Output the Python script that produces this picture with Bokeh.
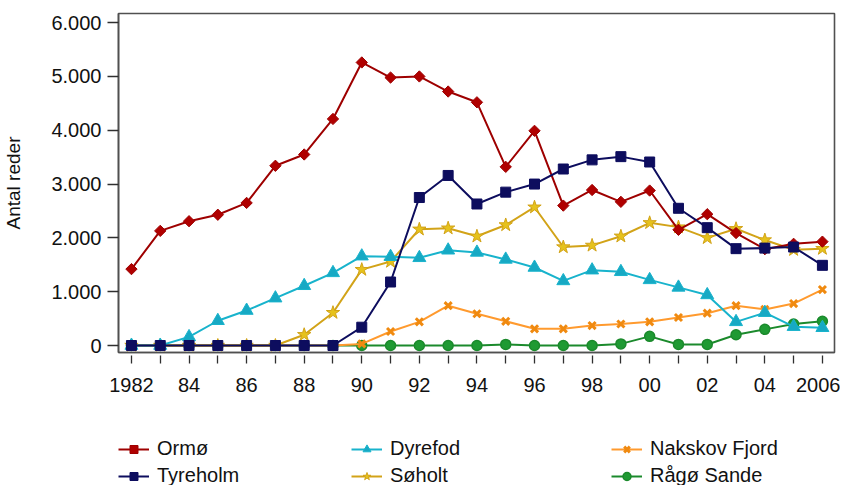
import math
from bokeh.plotting import figure
from bokeh.layouts import column
from bokeh.models import FixedTicker, CustomJSTickFormatter, Range1d, Legend, LegendItem
from bokeh.embed import file_html
from bokeh.resources import INLINE

years = list(range(1982, 2007))
x_tick_labels = ["1982", "", "84", "", "86", "", "88", "", "90", "", "92", "", "94", "",
                 "96", "", "98", "", "00", "", "02", "", "04", "", "2006"]
y_ticks = [0, 1000, 2000, 3000, 4000, 5000, 6000]

ormo = [1420, 2130, 2310, 2430, 2650, 3340, 3550, 4210, 5260, 4980, 5000, 4720, 4520,
        3320, 3990, 2600, 2890, 2670, 2880, 2150, 2440, 2090, 1790, 1890, 1930]
tyreholm = [0, 0, 0, 0, 0, 0, 0, 0, 340, 1180, 2750, 3160, 2630, 2850, 3000, 3280,
            3450, 3510, 3410, 2550, 2190, 1800, 1810, 1830, 1490]
dyrefod = [0, 0, 160, 460, 650, 880, 1110, 1350, 1660, 1650, 1630, 1770, 1730, 1600,
           1450, 1200, 1400, 1370, 1220, 1080, 940, 440, 610, 350, 330]
soholt = [0, 0, 0, 0, 0, 0, 200, 610, 1410, 1560, 2160, 2180, 2030, 2240, 2570, 1830,
          1860, 2030, 2280, 2200, 2000, 2170, 1960, 1780, 1800]
nakskov = [0, 0, 0, 0, 0, 0, 0, 0, 30, 260, 440, 740, 590, 450, 310, 310, 370, 400,
           440, 520, 600, 740, 670, 780, 1040]
rago = [0, 0, 0, 0, 0, 0, 0, 0, 0, 0, 0, 0, 0, 20, 0, 0, 0, 30, 170, 20, 20, 200, 300,
        400, 450]

FONT = "Liberation Sans"

p = figure(width=840, height=402, output_backend="svg", toolbar_location=None,
           x_range=Range1d(1981.55, 2006.42), y_range=Range1d(-130, 6170),
           min_border_left=115, min_border_right=6, min_border_top=13,
           min_border_bottom=50)
p.grid.visible = False
p.outline_line_color = "#505050"
p.outline_line_width = 1.6
p.background_fill_color = "white"
p.border_fill_color = "white"

# axes
p.xaxis.ticker = FixedTicker(ticks=years)
p.xaxis.major_label_overrides = {y: l for y, l in zip(years, x_tick_labels)}
p.xaxis.minor_tick_line_color = None
p.xaxis.major_tick_in = -3
p.xaxis.major_tick_out = 11
p.xaxis.major_label_standoff = 14
p.yaxis.ticker = FixedTicker(ticks=y_ticks)
p.yaxis.minor_tick_line_color = None
p.yaxis.major_tick_in = 0
p.yaxis.major_tick_out = 11
p.yaxis.major_label_standoff = 6
p.yaxis.formatter = CustomJSTickFormatter(
    code="return String(Math.round(tick)).replace(/\\B(?=(\\d{3})+(?!\\d))/g, '.');")
p.yaxis.axis_label = "Antal reder"
p.yaxis.axis_label_standoff = 24
p.yaxis.axis_label_text_font = FONT
p.yaxis.axis_label_text_font_size = "19px"
p.yaxis.axis_label_text_font_style = "normal"
p.yaxis.axis_label_text_color = "#111111"
for ax in (p.xaxis, p.yaxis):
    ax.axis_line_color = "#505050"
    ax.axis_line_width = 1.6
    ax.major_tick_line_color = "#303030"
    ax.major_tick_line_width = 1.3
    ax.major_label_text_font = FONT
    ax.major_label_text_font_size = "20px"
    ax.major_label_text_color = "#111111"

# name, values, line colour, marker fill, marker, size, marker line width, angle
series = [
    ("Rågø Sande", rago, "#1b8a2c", "#1f9a33", "circle", 10, 1.5, 0),
    ("Nakskov Fjord", nakskov, "#ff9a2e", "#f08a10", "x", 10, 3, 0),
    ("Søholt", soholt, "#d2a318", "#e6c21c", "star", 14, 1, 0),
    ("Dyrefod", dyrefod, "#18b3cc", "#17a9c4", "triangle", 13, 1, 0),
    ("Ormø", ormo, "#9e0000", "#b00000", "square", 8, 1, math.pi / 4),
    ("Tyreholm", tyreholm, "#0d0d5e", "#0d0d5e", "square", 10, 1, 0),
]

for name, vals, lcol, mcol, marker, size, mlw, ang in series:
    p.line(years, vals, line_color=lcol, line_width=2)
    p.scatter(years, vals, marker=marker, size=size, angle=ang, fill_color=mcol,
              line_color=lcol if marker != "x" else mcol, line_width=mlw)

# key panel: same series drawn into a strip whose y range hides them,
# used only to supply the legend samples
q = figure(width=840, height=83, output_backend="svg", toolbar_location=None,
           x_range=p.x_range, y_range=Range1d(-30000, -20000),
           min_border_left=0, min_border_right=0, min_border_top=0, min_border_bottom=0)
q.axis.visible = False
q.grid.visible = False
q.outline_line_color = None
q.border_fill_color = "white"
q.background_fill_color = "white"

key = {}
for name, vals, lcol, mcol, marker, size, mlw, ang in series:
    k1 = q.line(years, vals, line_color=lcol, line_width=2)
    k2 = q.scatter(years, vals, marker=marker, size=size, angle=ang, fill_color=mcol,
                   line_color=lcol if marker != "x" else mcol, line_width=mlw)
    key[name] = [k1, k2]

cols = [["Ormø", "Tyreholm"], ["Dyrefod", "Søholt"], ["Nakskov Fjord", "Rågø Sande"]]
offsets = [0, 233, 493]
for names, dx in zip(cols, offsets):
    leg = Legend(items=[LegendItem(label=n, renderers=key[n]) for n in names],
                 location=(dx, -2), orientation="vertical",
                 padding=0, margin=0, spacing=4,
                 glyph_width=31, glyph_height=20, label_height=20,
                 label_standoff=8, label_text_font=FONT,
                 label_text_font_size="20px", label_text_color="#111111",
                 border_line_color=None, background_fill_alpha=0)
    q.add_layout(leg, "center")

layout = column(p, q, spacing=0)
open("out.html", "w").write(file_html(layout, INLINE))
